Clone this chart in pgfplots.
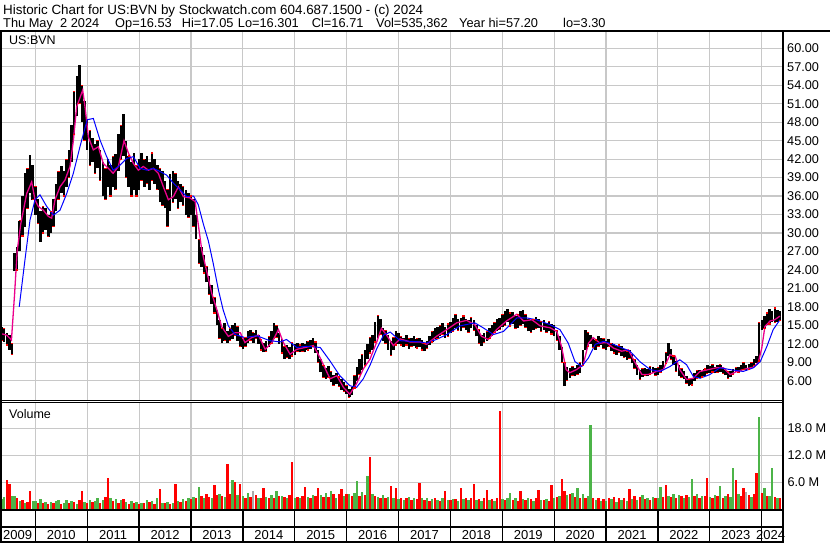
\documentclass[border=0pt]{standalone}
\usepackage{fontspec}
\setmainfont{Liberation Sans}
\usepackage{pgfplots}
\usepackage{pgfplotstable}
\pgfplotsset{compat=1.18}

\definecolor{gridgray}{RGB}{200,200,200}
\definecolor{volgreen}{RGB}{76,180,72}
\definecolor{volgray}{RGB}{170,170,170}
\tikzset{yr/.style={anchor=base, inner sep=0pt, font=\fontsize{13}{14}\selectfont}}

% weekly-ish high/low of US:BVN
\pgfplotstableread{
x lo hi
2009.36 12.5 14.8
2009.40 12.3 14.5
2009.45 11.8 13.8
2009.50 11.0 13.5
2009.55 10.3 12.0
2009.60 23.8 26.7
2009.65 24.0 27.8
2009.70 27.0 32.0
2009.75 29.5 36.0
2009.80 31.0 39.7
2009.85 34.0 40.5
2009.90 36.5 42.7
2009.95 35.4 41.0
2010.00 33.0 37.5
2010.05 31.5 35.5
2010.10 28.6 33.5
2010.15 30.0 34.3
2010.20 30.5 34.0
2010.25 29.4 33.0
2010.30 30.0 33.5
2010.35 31.0 35.5
2010.40 33.5 38.0
2010.45 35.5 40.0
2010.50 36.5 40.8
2010.55 36.0 40.0
2010.60 37.5 42.0
2010.65 39.0 43.5
2010.70 41.5 47.5
2010.75 46.0 53.0
2010.80 49.0 55.5
2010.85 51.0 57.3
2010.90 48.0 54.0
2010.95 45.0 51.5
2011.00 43.5 48.5
2011.05 41.0 46.7
2011.10 41.5 45.5
2011.15 39.7 44.5
2011.20 40.5 45.0
2011.25 38.5 43.5
2011.30 36.0 41.5
2011.35 35.4 40.5
2011.40 37.5 42.0
2011.45 36.0 41.0
2011.50 37.5 42.4
2011.55 37.0 42.8
2011.60 40.0 46.0
2011.65 42.0 47.5
2011.70 42.5 49.4
2011.75 39.0 45.0
2011.80 37.5 42.5
2011.85 36.0 41.5
2011.90 37.0 43.0
2011.95 36.0 41.0
2012.00 37.0 42.0
2012.05 38.5 43.0
2012.10 37.5 42.0
2012.15 38.0 42.5
2012.20 37.0 41.5
2012.25 38.5 43.0
2012.30 38.0 42.0
2012.35 37.0 41.0
2012.40 35.0 40.5
2012.45 34.5 40.0
2012.50 34.0 38.5
2012.55 31.0 37.0
2012.60 33.5 39.5
2012.65 35.0 40.0
2012.70 35.5 39.7
2012.75 34.0 38.5
2012.80 35.0 38.0
2012.85 34.5 37.5
2012.90 33.0 37.0
2012.95 32.5 36.5
2013.00 33.0 36.0
2013.05 31.0 35.5
2013.10 29.0 33.0
2013.15 25.0 29.0
2013.20 24.5 27.7
2013.25 23.5 26.5
2013.30 22.0 24.5
2013.35 20.0 23.0
2013.40 18.5 21.5
2013.45 17.0 19.5
2013.50 15.0 17.5
2013.55 12.8 15.9
2013.60 12.2 14.5
2013.65 12.5 15.4
2013.70 12.2 14.0
2013.75 12.5 14.5
2013.80 12.8 15.0
2013.85 13.3 15.4
2013.90 12.5 14.8
2013.95 11.5 13.3
2014.00 11.1 12.8
2014.05 11.5 13.0
2014.10 12.2 14.0
2014.15 12.5 14.3
2014.20 12.2 13.8
2014.25 12.8 14.3
2014.30 12.0 13.5
2014.35 11.0 12.7
2014.40 10.6 12.2
2014.45 10.8 12.5
2014.50 11.5 13.2
2014.55 12.0 14.0
2014.60 12.8 15.4
2014.65 13.0 15.0
2014.70 12.0 13.8
2014.75 10.5 12.7
2014.80 9.5 11.5
2014.85 9.8 11.8
2014.90 9.5 11.5
2014.95 10.0 12.2
2015.00 10.2 12.0
2015.05 10.8 12.2
2015.10 10.6 11.8
2015.15 10.8 12.2
2015.20 10.6 12.0
2015.25 11.0 12.4
2015.30 11.2 12.6
2015.35 11.5 13.0
2015.40 10.5 12.3
2015.45 9.0 11.0
2015.50 7.4 9.5
2015.55 6.5 8.5
2015.60 6.3 8.0
2015.65 6.5 8.4
2015.70 5.8 7.5
2015.75 5.2 7.0
2015.80 5.5 7.2
2015.85 5.0 6.6
2015.90 4.5 6.3
2015.95 4.2 5.8
2016.00 3.8 5.2
2016.05 3.3 4.6
2016.10 3.6 5.0
2016.15 4.8 6.8
2016.20 6.0 8.2
2016.25 7.0 9.5
2016.30 7.8 10.2
2016.35 8.5 11.0
2016.40 9.5 12.0
2016.45 10.5 13.0
2016.50 11.0 13.4
2016.55 12.3 15.5
2016.60 13.0 16.6
2016.65 13.5 16.0
2016.70 12.5 14.5
2016.75 12.0 14.2
2016.80 11.0 13.5
2016.85 10.1 12.5
2016.90 11.0 13.0
2016.95 11.8 14.0
2017.00 12.0 13.8
2017.05 11.8 13.2
2017.10 11.5 13.0
2017.15 11.8 13.4
2017.20 11.2 12.8
2017.25 11.5 13.0
2017.30 11.6 13.2
2017.35 11.3 12.8
2017.40 11.5 13.0
2017.45 11.0 12.6
2017.50 10.8 12.1
2017.55 11.2 12.5
2017.60 11.8 13.2
2017.65 12.3 14.0
2017.70 12.7 14.6
2017.75 12.8 14.8
2017.80 13.2 15.0
2017.85 13.5 15.4
2017.90 13.0 14.8
2017.95 13.2 15.2
2018.00 13.8 15.6
2018.05 14.0 16.2
2018.10 14.5 16.8
2018.15 14.2 16.0
2018.20 14.0 16.2
2018.25 14.6 16.5
2018.30 14.3 16.0
2018.35 13.8 15.8
2018.40 14.5 16.3
2018.45 14.2 15.8
2018.50 13.2 15.0
2018.55 12.0 14.3
2018.60 11.6 13.5
2018.65 12.2 13.8
2018.70 12.5 14.0
2018.75 12.8 14.5
2018.80 13.2 15.0
2018.85 13.8 15.5
2018.90 14.0 16.0
2018.95 14.3 16.2
2019.00 14.8 16.8
2019.05 15.0 17.3
2019.10 15.5 17.6
2019.15 14.9 17.0
2019.20 15.2 17.2
2019.25 14.5 16.5
2019.30 14.6 16.8
2019.35 15.0 17.3
2019.40 15.2 17.5
2019.45 14.6 16.8
2019.50 14.0 16.0
2019.55 13.8 15.8
2019.60 14.2 16.0
2019.65 14.5 16.3
2019.70 14.6 16.0
2019.75 14.0 15.6
2019.80 14.2 15.8
2019.85 13.8 15.4
2019.90 14.0 15.6
2019.95 13.6 15.2
2020.00 13.2 15.0
2020.05 12.5 14.2
2020.10 11.0 13.2
2020.15 8.9 11.5
2020.20 5.1 9.0
2020.25 6.0 8.3
2020.30 6.5 8.0
2020.35 6.8 8.3
2020.40 6.7 8.0
2020.45 7.0 8.5
2020.50 7.2 9.0
2020.55 8.5 11.0
2020.60 11.0 14.3
2020.65 11.5 13.8
2020.70 12.0 13.5
2020.75 11.4 13.0
2020.80 11.0 12.6
2020.85 11.5 13.2
2020.90 11.8 13.0
2020.95 11.2 12.8
2021.00 11.0 12.5
2021.05 11.5 12.8
2021.10 10.8 12.1
2021.15 10.5 12.0
2021.20 10.2 11.6
2021.25 10.6 11.8
2021.30 10.0 11.6
2021.35 9.8 11.2
2021.40 9.4 10.8
2021.45 9.6 11.0
2021.50 8.8 10.3
2021.55 8.0 9.4
2021.60 7.0 8.5
2021.65 6.2 7.8
2021.70 6.6 8.0
2021.75 6.8 8.0
2021.80 6.7 7.9
2021.85 7.0 8.3
2021.90 7.2 8.2
2021.95 6.9 8.0
2022.00 7.0 8.1
2022.05 7.3 8.5
2022.10 7.8 9.2
2022.15 8.8 10.6
2022.20 10.0 12.1
2022.25 9.5 11.2
2022.30 8.5 10.0
2022.35 7.5 9.2
2022.40 6.8 8.5
2022.45 6.5 8.0
2022.50 6.2 7.5
2022.55 5.5 6.8
2022.60 5.1 6.2
2022.65 5.3 6.4
2022.70 6.0 7.2
2022.75 6.3 7.6
2022.80 6.4 7.8
2022.85 6.6 7.6
2022.90 6.8 7.9
2022.95 7.2 8.6
2023.00 7.3 8.4
2023.05 7.4 8.6
2023.10 7.2 8.2
2023.15 7.3 8.5
2023.20 7.4 8.6
2023.25 7.2 8.3
2023.30 6.9 7.8
2023.35 6.4 7.5
2023.40 6.6 7.6
2023.45 7.0 7.9
2023.50 7.4 8.2
2023.55 7.3 8.3
2023.60 7.6 8.6
2023.65 7.8 8.9
2023.70 7.6 8.5
2023.75 7.8 8.7
2023.80 8.0 8.9
2023.85 8.5 9.5
2023.90 8.9 10.0
2023.95 9.2 15.5
2024.00 14.3 15.9
2024.05 14.5 16.5
2024.10 15.0 17.0
2024.15 15.2 17.6
2024.20 15.6 17.4
2024.25 15.4 17.8
2024.30 15.6 17.5
2024.35 15.8 17.3
}\pricetable

\begin{document}
\begin{tikzpicture}[x=1pt,y=1pt]
\useasboundingbox (0,0) rectangle (830,543);

% header lines
\node[anchor=base west, inner sep=0pt, font=\fontsize{13.4}{16}\selectfont] at (3,528)
    {Historic Chart for US:BVN by Stockwatch.com 604.687.1500 - (c) 2024};
\begin{scope}[every node/.style={anchor=base west, inner sep=0pt, font=\fontsize{12.8}{16}\selectfont}]
\node at (3,515.3) {Thu May\ \ 2 2024};
\node at (115,515.3) {Op=16.53};
\node at (181.7,515.3) {Hi=17.05};
\node at (237.7,515.3) {Lo=16.301};
\node at (311.7,515.3) {Cl=16.71};
\node at (376,515.3) {Vol=535,362};
\node at (459,515.3) {Year hi=57.20};
\node at (563,515.3) {lo=3.30};
\end{scope}

% price panel
\begin{axis}[
    at={(2pt,143pt)}, anchor=south west,
    width=779.7pt, height=367.5pt, scale only axis,
    xmin=2009.358, xmax=2024.384,
    ymin=2.865, ymax=62.57,
    axis line style={draw=none},
    major tick length=0pt,
    xtick={2010,...,2024}, xticklabels={},
    ytick={6,9,...,60},
    xmajorgrids, ymajorgrids,
    grid style={gridgray, line width=1.1pt},
    yticklabel pos=right,
    yticklabel style={anchor=west, inner sep=0pt, xshift=5.3pt,
        font=\fontsize{12.7}{13}\selectfont,
        /pgf/number format/fixed, /pgf/number format/fixed zerofill,
        /pgf/number format/precision=2},
    /pgf/number format/assume math mode=true,
    ]
    % high-low bars
    \addplot[black, only marks, mark=*, mark options={draw opacity=0, fill opacity=0},
        error bars/.cd, y dir=plus, y explicit, error mark=none,
        error bar style={line width=2.5pt, black}]
        table[x=x, y=lo, y error expr=\thisrow{hi}-\thisrow{lo}] {\pricetable};
    % red ticks on the bars
    \addplot[red, only marks, mark=-, mark size=1.2pt, mark options={line width=1.2pt}, mark repeat=2]
        table[x=x, y=lo] {\pricetable};
    \addplot[red, only marks, mark=-, mark size=1.2pt, mark options={line width=1.2pt}, mark repeat=3, mark phase=2]
        table[x=x, y=hi] {\pricetable};
    % short moving average
    \addplot[magenta, line width=1.3pt] coordinates {
        (2009.36,13.6) (2009.45,13.4) (2009.54,12.6) (2009.60,20.0) (2009.65,27.0)
        (2009.72,31.5) (2009.834,36.4) (2009.93,38.3) (2009.994,35.4) (2010.058,34.3)
        (2010.155,33.7) (2010.25,32.7) (2010.315,32.4) (2010.38,35.4) (2010.476,37.5)
        (2010.572,38.6) (2010.668,40.8) (2010.733,45.0) (2010.797,50.5) (2010.913,53.2)
        (2010.958,50.5) (2011.022,45.6) (2011.118,43.5) (2011.215,44.0) (2011.31,41.3)
        (2011.407,40.5) (2011.50,39.7) (2011.60,40.8) (2011.71,45.0) (2011.793,43.0)
        (2011.89,41.3) (2011.986,40.2) (2012.08,40.8) (2012.18,40.2) (2012.275,40.5)
        (2012.37,39.7) (2012.468,37.5) (2012.564,35.4) (2012.66,35.9) (2012.757,37.5)
        (2012.853,35.9) (2012.98,35.7) (2013.08,35.1) (2013.14,31.4) (2013.21,27.1)
        (2013.30,23.9) (2013.40,20.2) (2013.50,17.5) (2013.59,14.8) (2013.72,13.2)
        (2013.85,13.8) (2013.95,13.8) (2014.04,12.2) (2014.17,13.0) (2014.30,13.4)
        (2014.43,11.1) (2014.56,12.2) (2014.685,14.3) (2014.78,12.2) (2014.91,10.3)
        (2015.04,11.1) (2015.20,11.4) (2015.36,11.7) (2015.49,9.7) (2015.68,6.3)
        (2015.81,6.8) (2015.94,4.9) (2016.06,3.8) (2016.19,5.5) (2016.32,7.9)
        (2016.45,9.5) (2016.58,12.3) (2016.67,14.5) (2016.77,13.4) (2016.90,11.7)
        (2017.03,12.8) (2017.22,12.3) (2017.41,12.3) (2017.54,11.9) (2017.73,13.2)
        (2017.93,14.3) (2018.12,15.4) (2018.31,15.8) (2018.47,15.1) (2018.60,13.2)
        (2018.73,12.7) (2018.89,14.3) (2019.08,15.7) (2019.28,16.8) (2019.41,15.7)
        (2019.57,15.9) (2019.73,14.9) (2019.92,14.6) (2020.05,14.0) (2020.14,11.6)
        (2020.23,7.8) (2020.30,7.3) (2020.43,7.8) (2020.56,8.6) (2020.66,12.1)
        (2020.75,13.0) (2020.88,12.1) (2021.01,12.2) (2021.14,11.3) (2021.30,10.8)
        (2021.43,11.0) (2021.56,8.9) (2021.69,7.0) (2021.81,7.0) (2021.97,7.5)
        (2022.10,7.8) (2022.23,10.2) (2022.33,10.0) (2022.42,7.8) (2022.55,6.2)
        (2022.68,6.4) (2022.81,7.5) (2022.97,7.8) (2023.13,8.1) (2023.26,8.1)
        (2023.39,7.0) (2023.52,7.5) (2023.68,7.9) (2023.84,8.2) (2023.93,8.9)
        (2024.00,11.3) (2024.06,14.8) (2024.16,15.7) (2024.25,15.9) (2024.35,16.5)
    };
    % long moving average
    \addplot[blue, line width=1pt] coordinates {
        (2009.69,18.0) (2009.80,25.6) (2009.898,32.1) (2009.994,35.4) (2010.09,36.2)
        (2010.22,34.3) (2010.35,32.9) (2010.476,33.7) (2010.605,36.4) (2010.733,39.7)
        (2010.86,44.0) (2011.00,48.4) (2011.118,48.6) (2011.247,45.1) (2011.375,42.4)
        (2011.50,40.2) (2011.63,41.0) (2011.76,42.1) (2011.89,42.4) (2012.02,40.5)
        (2012.15,40.2) (2012.275,40.5) (2012.40,40.0) (2012.53,39.4) (2012.66,38.1)
        (2012.79,37.0) (2012.92,35.9) (2013.05,36.0) (2013.14,34.6) (2013.24,31.4)
        (2013.335,28.7) (2013.43,25.0) (2013.53,20.7) (2013.62,17.5) (2013.72,14.9)
        (2013.85,13.5) (2014.04,13.0) (2014.27,13.3) (2014.52,12.5) (2014.72,12.3)
        (2014.84,12.7) (2015.04,11.4) (2015.23,11.6) (2015.49,11.4) (2015.68,9.2)
        (2015.87,6.8) (2016.06,5.2) (2016.19,4.9) (2016.32,6.3) (2016.45,8.5)
        (2016.58,11.2) (2016.71,13.4) (2016.84,13.9) (2017.03,12.5) (2017.22,12.4)
        (2017.41,12.3) (2017.54,12.1) (2017.73,12.7) (2017.93,13.5) (2018.18,14.9)
        (2018.47,15.4) (2018.63,14.6) (2018.83,13.5) (2019.02,14.0) (2019.28,16.2)
        (2019.47,16.2) (2019.66,15.9) (2019.92,15.1) (2020.11,14.3) (2020.27,12.1)
        (2020.40,9.1) (2020.53,8.3) (2020.66,9.7) (2020.79,11.9) (2020.95,12.4)
        (2021.14,11.9) (2021.40,11.0) (2021.46,10.8) (2021.65,9.1) (2021.85,7.8)
        (2022.04,7.5) (2022.23,8.3) (2022.42,9.4) (2022.55,8.6) (2022.68,6.7)
        (2022.81,6.4) (2023.00,7.0) (2023.195,8.1) (2023.39,7.8) (2023.64,7.5)
        (2023.84,8.1) (2023.97,9.1) (2024.10,11.6) (2024.22,14.3) (2024.35,15.9)
    };
\end{axis}

% volume panel
\begin{axis}[
    at={(2pt,33.7pt)}, anchor=south west,
    width=779.7pt, height=107.6pt, scale only axis,
    xmin=2009.358, xmax=2024.384,
    ymin=0, ymax=23.9,
    axis line style={draw=none},
    major tick length=0pt,
    xtick={2010,...,2024}, xticklabels={},
    ytick={6,12,18}, yticklabels={6.0 M,12.0 M,18.0 M},
    xmajorgrids, ymajorgrids,
    grid style={gridgray, line width=1.1pt},
    yticklabel pos=right,
    yticklabel style={anchor=west, inner sep=0pt, xshift=5.6pt,
        font=\fontsize{12.7}{13}\selectfont},
    ]
    \addplot[ycomb, volgreen, line width=2.4pt] coordinates {
        (2009.35,2.2) (2009.40,2.8) (2009.55,2.9) (2009.60,3.0) (2009.70,1.8) (2009.80,1.5) (2009.95,1.9)
        (2010.00,1.8) (2010.10,2.2) (2010.20,1.6) (2010.30,1.7) (2010.40,1.9) (2010.45,2.0) (2010.55,1.5)
        (2010.60,2.1) (2010.70,1.8) (2010.80,1.2) (2010.95,1.6)
        (2011.05,2.1) (2011.15,1.8) (2011.20,2.4) (2011.30,2.0) (2011.45,2.6) (2011.55,2.2) (2011.65,2.0)
        (2011.75,1.6) (2011.85,1.9) (2011.95,1.7)
        (2012.05,1.5) (2012.15,2.0) (2012.25,1.8) (2012.35,2.4) (2012.45,1.5) (2012.55,1.7) (2012.65,1.4)
        (2012.75,1.8) (2012.85,2.2) (2012.95,2.5)
        (2013.05,2.8) (2013.15,4.9) (2013.25,2.6) (2013.40,2.5) (2013.55,3.4) (2013.65,2.8) (2013.80,6.4)
        (2013.90,3.2)
        (2014.00,3.0) (2014.10,3.6) (2014.30,2.6) (2014.45,2.8) (2014.55,3.2) (2014.65,4.1) (2014.75,3.0)
        (2014.85,2.4)
        (2015.00,2.6) (2015.10,2.5) (2015.25,2.7) (2015.35,3.1) (2015.50,3.2) (2015.60,3.7) (2015.70,4.1)
        (2015.80,2.6) (2015.95,3.0)
        (2016.05,3.5) (2016.15,3.6) (2016.20,6.3) (2016.30,3.8) (2016.40,7.4) (2016.50,3.5) (2016.60,2.7)
        (2016.70,3.1) (2016.80,2.8) (2016.90,2.4)
        (2017.00,2.3) (2017.10,2.1) (2017.20,2.8) (2017.30,2.5) (2017.45,2.4) (2017.55,2.6) (2017.65,2.3)
        (2017.75,2.0) (2017.85,2.4) (2017.95,2.1)
        (2018.05,2.3) (2018.15,1.9) (2018.25,2.2) (2018.35,2.0) (2018.50,2.1) (2018.60,1.8) (2018.75,2.0)
        (2018.85,1.9)
        (2019.00,2.2) (2019.10,2.5) (2019.15,3.7) (2019.25,2.4) (2019.40,2.3) (2019.50,2.6) (2019.60,1.8)
        (2019.75,2.0) (2019.85,2.3)
        (2020.00,2.4) (2020.10,3.0) (2020.25,3.2) (2020.35,3.6) (2020.45,4.7) (2020.55,3.4) (2020.65,3.0)
        (2020.70,18.7) (2020.80,2.0) (2020.90,1.8)
        (2021.00,1.9) (2021.10,2.2) (2021.20,1.7) (2021.30,2.0) (2021.40,1.8) (2021.50,2.2) (2021.60,2.1)
        (2021.70,3.2) (2021.80,2.5) (2021.90,2.8)
        (2022.00,2.6) (2022.05,4.9) (2022.20,3.0) (2022.30,3.4) (2022.40,3.1) (2022.50,2.6) (2022.60,2.8)
        (2022.65,6.7) (2022.75,3.3) (2022.85,2.9)
        (2023.00,2.8) (2023.10,3.2) (2023.20,5.2) (2023.30,3.0) (2023.40,2.7) (2023.45,9.1) (2023.55,3.4)
        (2023.80,2.8) (2023.95,20.4)
        (2024.05,4.7) (2024.15,2.9) (2024.20,9.1) (2024.30,2.5)
    };
    \addplot[ycomb, red, line width=2.4pt] coordinates {
        (2009.45,6.5) (2009.50,5.6) (2009.65,2.5) (2009.75,2.0) (2009.85,1.6) (2009.90,4.0)
        (2010.05,1.5) (2010.15,1.3) (2010.25,1.2) (2010.35,1.4) (2010.50,1.2) (2010.65,1.4) (2010.75,1.6)
        (2010.85,2.0) (2010.90,4.1)
        (2011.00,1.4) (2011.10,1.7) (2011.25,1.5) (2011.35,2.8) (2011.40,7.0) (2011.50,1.8) (2011.60,1.5)
        (2011.70,2.3) (2011.80,1.2) (2011.90,1.3)
        (2012.00,1.1) (2012.10,1.4) (2012.20,1.6) (2012.30,1.2) (2012.40,4.4) (2012.50,1.3) (2012.60,1.1)
        (2012.70,5.6) (2012.80,1.6) (2012.90,1.8)
        (2013.00,2.2) (2013.10,2.4) (2013.20,3.0) (2013.30,3.5) (2013.35,2.8) (2013.45,5.4) (2013.50,3.2)
        (2013.60,2.9) (2013.70,10.0) (2013.75,3.5) (2013.85,6.0) (2013.95,5.6)
        (2014.05,2.6) (2014.15,2.8) (2014.25,3.1) (2014.35,2.4) (2014.40,4.7) (2014.50,2.5) (2014.60,2.6)
        (2014.70,2.9) (2014.80,2.7) (2014.90,3.2) (2014.95,10.4)
        (2015.05,2.8) (2015.15,3.0) (2015.20,5.0) (2015.30,2.6) (2015.40,2.9) (2015.45,4.8) (2015.55,2.7)
        (2015.65,2.8) (2015.75,3.3) (2015.85,3.4) (2015.90,4.5)
        (2016.00,3.3) (2016.10,2.9) (2016.25,3.0) (2016.35,3.2) (2016.45,11.7) (2016.55,3.0) (2016.65,2.5)
        (2016.75,2.6) (2016.85,5.2) (2016.95,4.7)
        (2017.05,2.6) (2017.15,2.4) (2017.25,2.0) (2017.35,2.2) (2017.40,5.9) (2017.50,2.1) (2017.60,1.9)
        (2017.70,2.5) (2017.80,1.8) (2017.90,4.1)
        (2018.00,2.0) (2018.10,2.2) (2018.20,4.7) (2018.30,2.4) (2018.40,2.6) (2018.45,5.6) (2018.55,2.3)
        (2018.65,2.5) (2018.70,4.3) (2018.80,2.2) (2018.90,2.4) (2018.95,21.8)
        (2019.05,2.0) (2019.20,2.1) (2019.30,1.9) (2019.35,4.1) (2019.45,2.0) (2019.55,2.2) (2019.65,2.4)
        (2019.70,4.3) (2019.80,2.1) (2019.90,1.9) (2019.95,5.4)
        (2020.05,2.8) (2020.15,6.7) (2020.20,4.0) (2020.30,3.5) (2020.40,2.8) (2020.50,2.5) (2020.60,2.6)
        (2020.75,2.4) (2020.85,2.6) (2020.95,2.3)
        (2021.05,2.5) (2021.15,2.8) (2021.25,2.4) (2021.35,2.6) (2021.45,4.5) (2021.55,2.9) (2021.65,2.7)
        (2021.75,2.3) (2021.85,2.0) (2021.95,2.4)
        (2022.10,2.7) (2022.15,5.4) (2022.25,2.8) (2022.35,2.5) (2022.45,2.9) (2022.55,3.2) (2022.70,3.0)
        (2022.80,2.6) (2022.90,3.0) (2022.95,6.9)
        (2023.05,2.5) (2023.15,2.9) (2023.25,2.6) (2023.35,3.3) (2023.50,6.5) (2023.60,3.0) (2023.65,4.7)
        (2023.75,3.2) (2023.85,3.5) (2023.90,8.0)
        (2024.00,3.6) (2024.10,3.0) (2024.25,2.7) (2024.35,2.6)
    };
    \addplot[ycomb, volgray, line width=2.4pt] coordinates {(2014.20,4.0) (2023.70,3.8)};
\end{axis}

% date strip
\begin{axis}[
    at={(2pt,0pt)}, anchor=south west,
    width=779.7pt, height=33.7pt, scale only axis,
    xmin=2009.358, xmax=2024.384,
    ymin=0, ymax=33.7,
    axis line style={draw=none},
    major tick length=0pt,
    xtick={2010,...,2024}, xticklabels={},
    ytick=\empty,
    xmajorgrids,
    grid style={black, line width=1.3pt},
    clip=false,
    ]
    \node[yr] at (axis cs:2009.66,3.5) {2009};
    \node[yr] at (axis cs:2010.5,3.5) {2010};
    \node[yr] at (axis cs:2011.5,3.5) {2011};
    \node[yr] at (axis cs:2012.5,3.5) {2012};
    \node[yr] at (axis cs:2013.5,3.5) {2013};
    \node[yr] at (axis cs:2014.5,3.5) {2014};
    \node[yr] at (axis cs:2015.5,3.5) {2015};
    \node[yr] at (axis cs:2016.5,3.5) {2016};
    \node[yr] at (axis cs:2017.5,3.5) {2017};
    \node[yr] at (axis cs:2018.5,3.5) {2018};
    \node[yr] at (axis cs:2019.5,3.5) {2019};
    \node[yr] at (axis cs:2020.5,3.5) {2020};
    \node[yr] at (axis cs:2021.5,3.5) {2021};
    \node[yr] at (axis cs:2022.5,3.5) {2022};
    \node[yr] at (axis cs:2023.5,3.5) {2023};
    \node[yr] at (axis cs:2024.17,3.5) {2024};
\end{axis}

% panel labels and frame
\node[anchor=base west, inner sep=0pt, font=\fontsize{12.5}{13}\selectfont] at (9,498) {US:BVN};
\node[anchor=base west, inner sep=0pt, font=\fontsize{12.5}{13}\selectfont] at (9,124.7) {Volume};
\draw[line width=2pt] (0,511.5) -- (830,511.5);
\draw[line width=2pt] (1,0) -- (1,511.5);
\draw[line width=2pt] (782.7,0) -- (782.7,511.5);
\draw[line width=1pt] (0,142.3) -- (782,142.3);
\draw[line width=1pt] (0,140.0) -- (782,140.0);
\draw[line width=1.8pt] (0,33.2) -- (782,33.2);
\draw[line width=1.8pt] (0,16) -- (782,16);
\draw[line width=2pt] (0,1) -- (782,1);
\end{tikzpicture}
\end{document}
